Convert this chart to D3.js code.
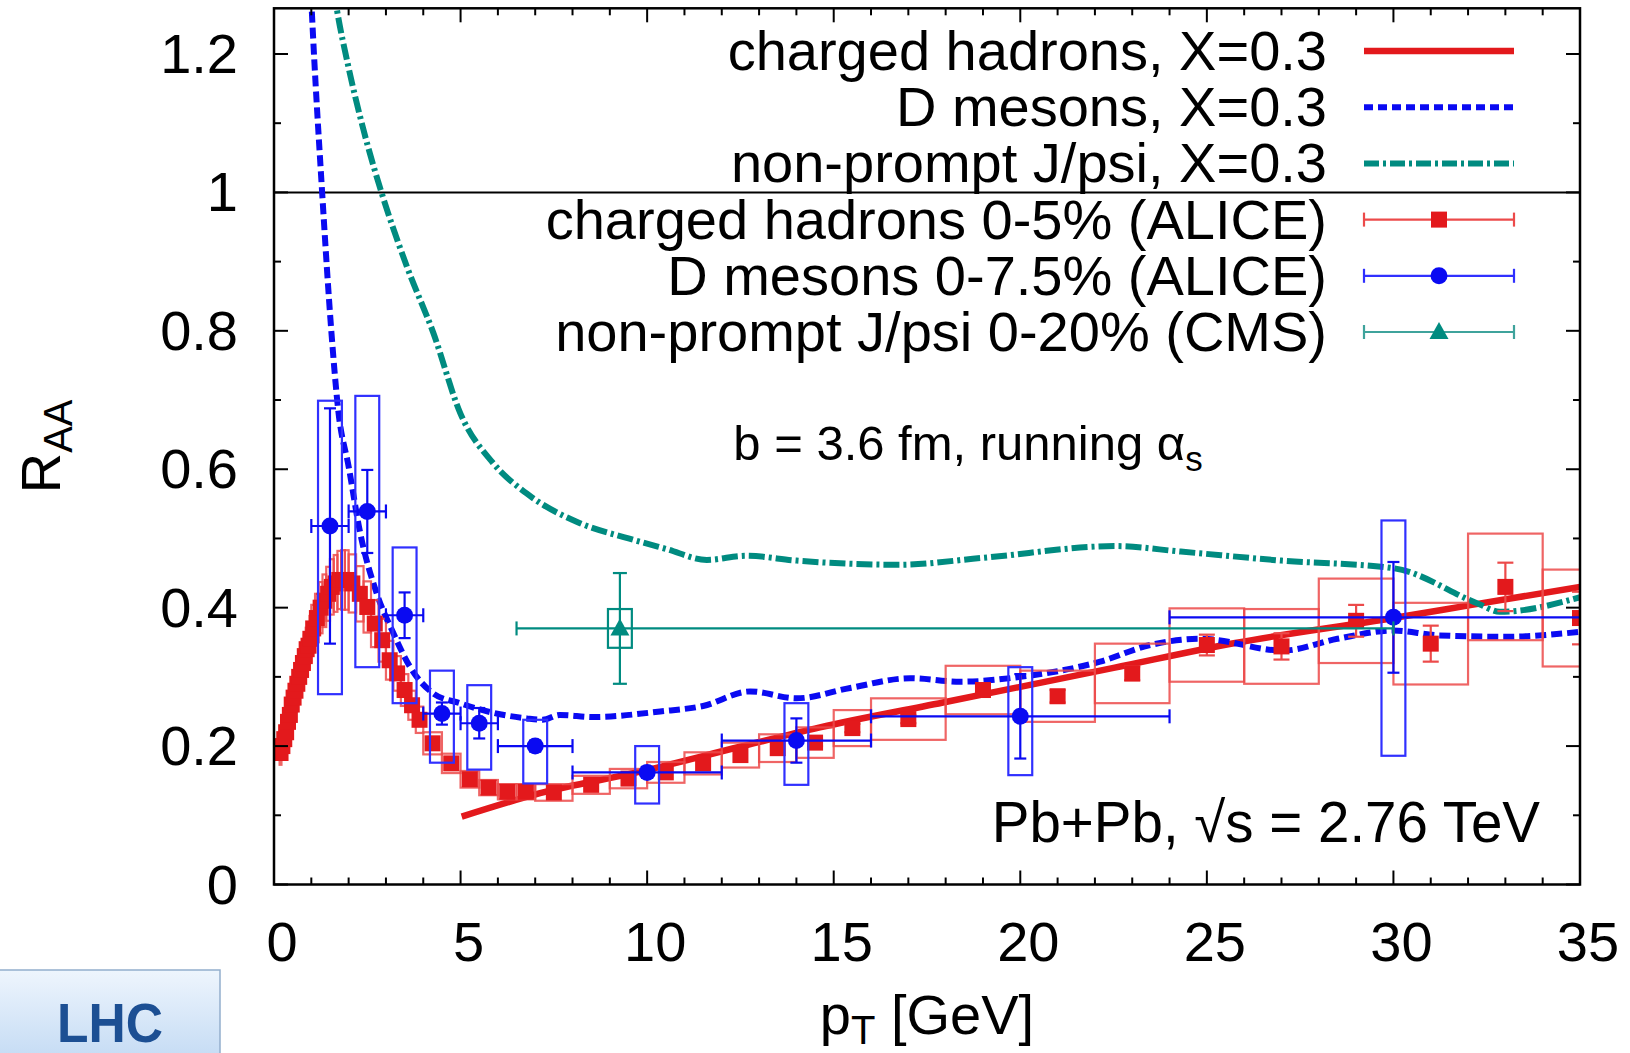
<!DOCTYPE html>
<html><head><meta charset="utf-8">
<script src="https://cdn.jsdelivr.net/npm/d3@7"></script>
<style>
body{margin:0;background:#fff;}
svg{display:block;}
text{font-family:"Liberation Sans",Arial,Helvetica,sans-serif;fill:#000;}
</style>
</head><body>
<svg id="c" width="1630" height="1053"></svg>
<script>
// ---------------- data ----------------
const xTicks = [0,5,10,15,20,25,30,35];
const xTickLabels = ["0","5","10","15","20","25","30","35"];
const yTicks = [0,0.2,0.4,0.6,0.8,1,1.2];
const yTickLabels = ["0","0.2","0.4","0.6","0.8","1","1.2"];

// theory: charged hadrons, X=0.3
const chTheoryPt = [5.03,7.13,9.81,12.49,14.63,18.03,22.5,25.76,30.0,32.1,35];
const chTheoryR  = [0.098,0.132,0.163,0.199,0.227,0.264,0.313,0.349,0.385,0.404,0.43];
// theory: D mesons, X=0.3
const dTheoryPt = [0.9,1.01,1.29,1.54,1.72,2.0,2.31,2.75,3.2,3.64,4.27,4.98,5.88,6.77,7.2,7.66,8.56,10.35,11.5,12.76,14.0,15.44,17.05,18.39,20.0,22.14,23.48,24.85,27.04,28.5,30.0,31.2,33.0,35];
const dTheoryR  = [1.40,1.266,1.0,0.797,0.686,0.604,0.508,0.421,0.363,0.315,0.276,0.262,0.248,0.240,0.238,0.245,0.242,0.250,0.258,0.279,0.269,0.284,0.298,0.293,0.300,0.322,0.346,0.355,0.338,0.355,0.367,0.36,0.358,0.365];
// theory: non-prompt J/psi, X=0.3
const jTheoryPt = [1.5,1.68,2.0,2.4,2.88,3.56,4.27,5.0,5.87,6.77,8.2,9.5,10.5,11.6,12.65,14.0,16.75,19.0,22.56,24.3,27.0,30.0,32.3,32.85,35];
const jTheoryR  = [1.33,1.266,1.18,1.09,1.0,0.893,0.797,0.68,0.609,0.565,0.522,0.50,0.485,0.469,0.475,0.468,0.462,0.472,0.489,0.481,0.468,0.457,0.405,0.394,0.415];

// ALICE charged hadrons 0-5%
const chPt   = [0.175,0.225,0.275,0.325,0.375,0.425,0.475,0.525,0.575,0.625,0.675,0.725,0.775,0.825,0.875,0.925,0.975,1.05,1.15,1.25,1.35,1.45,1.55,1.65,1.75,1.85,1.95,2.1,2.3,2.5,2.7,2.9,3.1,3.3,3.5,3.7,3.9,4.25,4.75,5.25,5.75,6.25,6.75,7.5,8.5,9.5,10.5,11.5,12.5,13.5,14.5,15.5,17,19,21,23,25,27,29,31,33,35];
const chLo   = [0.15,0.2,0.25,0.3,0.35,0.4,0.45,0.5,0.55,0.6,0.65,0.7,0.75,0.8,0.85,0.9,0.95,1.0,1.1,1.2,1.3,1.4,1.5,1.6,1.7,1.8,1.9,2.0,2.2,2.4,2.6,2.8,3.0,3.2,3.4,3.6,3.8,4.0,4.5,5.0,5.5,6.0,6.5,7,8,9,10,11,12,13,14,15,16,18,20,22,24,26,28,30,32,34];
const chHi   = [0.2,0.25,0.3,0.35,0.4,0.45,0.5,0.55,0.6,0.65,0.7,0.75,0.8,0.85,0.9,0.95,1.0,1.1,1.2,1.3,1.4,1.5,1.6,1.7,1.8,1.9,2.0,2.2,2.4,2.6,2.8,3.0,3.2,3.4,3.6,3.8,4.0,4.5,5.0,5.5,6.0,6.5,7,8,9,10,11,12,13,14,15,16,18,20,22,24,26,28,30,32,34,36];
const chR    = [0.19,0.20,0.21,0.22,0.235,0.245,0.26,0.27,0.28,0.29,0.30,0.31,0.32,0.33,0.34,0.345,0.355,0.37,0.385,0.40,0.41,0.42,0.43,0.435,0.44,0.44,0.44,0.435,0.42,0.401,0.377,0.353,0.324,0.305,0.281,0.259,0.238,0.204,0.175,0.152,0.140,0.134,0.134,0.133,0.144,0.153,0.162,0.175,0.187,0.197,0.205,0.226,0.239,0.281,0.272,0.305,0.346,0.344,0.381,0.348,0.430,0.385];
const chStat = [0.002,0.002,0.002,0.002,0.002,0.002,0.002,0.002,0.002,0.002,0.002,0.002,0.002,0.002,0.002,0.002,0.002,0.002,0.002,0.002,0.002,0.002,0.002,0.002,0.002,0.002,0.002,0.002,0.002,0.002,0.002,0.002,0.002,0.002,0.002,0.002,0.002,0.002,0.002,0.002,0.002,0.002,0.002,0.002,0.003,0.003,0.003,0.004,0.004,0.004,0.005,0.006,0.006,0.008,0.009,0.010,0.015,0.019,0.023,0.026,0.035,0.038];
const chSyst = [0.017,0.018,0.019,0.02,0.021,0.022,0.023,0.024,0.025,0.026,0.027,0.028,0.029,0.03,0.031,0.032,0.033,0.034,0.035,0.037,0.038,0.039,0.04,0.041,0.042,0.043,0.043,0.042,0.04,0.037,0.034,0.031,0.028,0.025,0.023,0.021,0.019,0.016,0.014,0.012,0.011,0.011,0.011,0.012,0.013,0.014,0.015,0.016,0.018,0.020,0.022,0.026,0.030,0.035,0.037,0.043,0.053,0.054,0.061,0.059,0.077,0.070];

// ALICE D mesons 0-7.5%
const dPt     = [1.5,2.5,3.5,4.5,5.5,7,10,14,20,30];
const dXlo    = [1,2,3,4,5,6,8,12,16,24];
const dXhi    = [2,3,4,5,6,8,12,16,24,36];
const dR      = [0.518,0.539,0.389,0.247,0.233,0.200,0.162,0.208,0.243,0.386];
const dStat   = [0.17,0.06,0.033,0.016,0.022,0.008,0.008,0.032,0.061,0.08];
const dSystHi = [0.181,0.167,0.098,0.062,0.055,0.038,0.038,0.054,0.071,0.14];
const dSystLo = [0.243,0.225,0.127,0.071,0.067,0.054,0.045,0.064,0.085,0.2];

// CMS non-prompt J/psi 0-20%
const jPt = [9.27], jXlo = [6.5], jXhi = [30], jR = [0.370], jStat = [0.08], jSyst = [0.028];

const legendLabels = ["charged hadrons, X=0.3","D mesons, X=0.3","non-prompt J/psi, X=0.3",
  "charged hadrons 0-5% (ALICE)","D mesons 0-7.5% (ALICE)","non-prompt J/psi 0-20% (CMS)"];

// ---------------- drawing ----------------
const RED="#e3191c", RED_L="#ec4a4a", BLUE="#0a0af2", BLUE_L="#3030ff", TEAL="#008b80", TEAL_L="#3fa39c";
const svg=d3.select("#c");
const yTop=1.266;
const x=d3.scaleLinear().domain([0,35]).range([274,1580]);
const y=d3.scaleLinear().domain([0,yTop]).range([884.5,8.3]);
const boxHalf=0.32; // half width of syst boxes for D / J/psi (GeV)
const SQ=16, CR=8.5;

const defs=svg.append("defs");
defs.append("clipPath").attr("id","clip").append("rect")
  .attr("x",x(0)).attr("y",y(yTop)).attr("width",x(35)-x(0)).attr("height",y(0)-y(yTop));
const grad=defs.append("linearGradient").attr("id","lhc").attr("x1",0).attr("y1",0).attr("x2",0).attr("y2",1);
grad.append("stop").attr("offset","0%").attr("stop-color","#eef5fd");
grad.append("stop").attr("offset","100%").attr("stop-color","#c4dbf4");

const g=svg.append("g").attr("clip-path","url(#clip)");

// unity line
g.append("line").attr("x1",x(0)).attr("x2",x(35)).attr("y1",y(1)).attr("y2",y(1))
  .attr("stroke","#000").attr("stroke-width",2);

const line=d3.line().x(d=>x(d[0])).y(d=>y(d[1])).curve(d3.curveMonotoneX);
g.append("path").attr("d",line(chTheoryPt.map((p,i)=>[p,chTheoryR[i]])))
  .attr("fill","none").attr("stroke",RED).attr("stroke-width",6.5);
g.append("path").attr("d",line(dTheoryPt.map((p,i)=>[p,dTheoryR[i]])))
  .attr("fill","none").attr("stroke",BLUE).attr("stroke-width",6).attr("stroke-dasharray","11,5");
g.append("path").attr("d",line(jTheoryPt.map((p,i)=>[p,jTheoryR[i]])))
  .attr("fill","none").attr("stroke",TEAL).attr("stroke-width",6).attr("stroke-dasharray","16,4,3,4");

function vbar(sel,px,y1,y2,col,cap,w){
  sel.append("line").attr("x1",px).attr("x2",px).attr("y1",y1).attr("y2",y2).attr("stroke",col).attr("stroke-width",w);
  sel.append("line").attr("x1",px-cap).attr("x2",px+cap).attr("y1",y1).attr("y2",y1).attr("stroke",col).attr("stroke-width",w);
  sel.append("line").attr("x1",px-cap).attr("x2",px+cap).attr("y1",y2).attr("y2",y2).attr("stroke",col).attr("stroke-width",w);
}
function hbar(sel,x1,x2,py,col,cap,w){
  sel.append("line").attr("x1",x1).attr("x2",x2).attr("y1",py).attr("y2",py).attr("stroke",col).attr("stroke-width",w);
  sel.append("line").attr("x1",x1).attr("x2",x1).attr("y1",py-cap).attr("y2",py+cap).attr("stroke",col).attr("stroke-width",w);
  sel.append("line").attr("x1",x2).attr("x2",x2).attr("y1",py-cap).attr("y2",py+cap).attr("stroke",col).attr("stroke-width",w);
}

// charged hadrons data
const gch=g.append("g");
chPt.forEach((p,i)=>{
  gch.append("rect").attr("x",x(chLo[i])).attr("width",x(chHi[i])-x(chLo[i]))
    .attr("y",y(chR[i]+chSyst[i])).attr("height",y(chR[i]-chSyst[i])-y(chR[i]+chSyst[i]))
    .attr("fill","none").attr("stroke",RED_L).attr("stroke-width",2.2).attr("opacity",0.85);
});
chPt.forEach((p,i)=>{
  if(chStat[i]>0.004) vbar(gch,x(p),y(chR[i]+chStat[i]),y(chR[i]-chStat[i]),RED_L,8,2.2);
  gch.append("rect").attr("x",x(p)-SQ/2).attr("y",y(chR[i])-SQ/2).attr("width",SQ).attr("height",SQ).attr("fill",RED);
});

// D meson data
const gd=g.append("g");
dPt.forEach((p,i)=>{
  gd.append("rect").attr("x",x(p-boxHalf)).attr("width",x(p+boxHalf)-x(p-boxHalf))
    .attr("y",y(dR[i]+dSystHi[i])).attr("height",y(dR[i]-dSystLo[i])-y(dR[i]+dSystHi[i]))
    .attr("fill","none").attr("stroke",BLUE_L).attr("stroke-width",2.2);
  hbar(gd,x(dXlo[i]),x(dXhi[i]),y(dR[i]),BLUE,7,2.2);
  vbar(gd,x(p),y(dR[i]+dStat[i]),y(dR[i]-dStat[i]),BLUE,6,2.2);
  gd.append("circle").attr("cx",x(p)).attr("cy",y(dR[i])).attr("r",CR).attr("fill",BLUE);
});

// J/psi data
const gj=g.append("g");
jPt.forEach((p,i)=>{
  gj.append("rect").attr("x",x(p-boxHalf)).attr("width",x(p+boxHalf)-x(p-boxHalf))
    .attr("y",y(jR[i]+jSyst[i])).attr("height",y(jR[i]-jSyst[i])-y(jR[i]+jSyst[i]))
    .attr("fill","none").attr("stroke",TEAL).attr("stroke-width",2.2);
  hbar(gj,x(jXlo[i]),x(jXhi[i]),y(jR[i]),TEAL,7,2.2);
  vbar(gj,x(p),y(jR[i]+jStat[i]),y(jR[i]-jStat[i]),TEAL,7,2.2);
  const cx=x(p), cy=y(jR[i]);
  gj.append("path").attr("d",`M${cx},${cy-10}L${cx+9.5},${cy+7}L${cx-9.5},${cy+7}Z`).attr("fill",TEAL);
});

// frame
svg.append("rect").attr("x",x(0)).attr("y",y(yTop)).attr("width",x(35)-x(0)).attr("height",y(0)-y(yTop))
  .attr("fill","none").attr("stroke","#000").attr("stroke-width",2.5);

// ticks
const tk=svg.append("g").attr("stroke","#000").attr("stroke-width",2);
d3.range(0,36,1).forEach(v=>{
  const L = (v%5===0)?14:7;
  tk.append("line").attr("x1",x(v)).attr("x2",x(v)).attr("y1",y(0)).attr("y2",y(0)-L);
  tk.append("line").attr("x1",x(v)).attr("x2",x(v)).attr("y1",y(yTop)).attr("y2",y(yTop)+L);
});
d3.range(0,13,1).forEach(k=>{
  const v=k/10, L=(k%2===0)?14:7;
  tk.append("line").attr("x1",x(0)).attr("x2",x(0)+L).attr("y1",y(v)).attr("y2",y(v));
  tk.append("line").attr("x1",x(35)).attr("x2",x(35)-L).attr("y1",y(v)).attr("y2",y(v));
});

// tick labels
const FS=56;
xTicks.forEach((v,i)=>{
  svg.append("text").attr("x",x(v)+8).attr("y",961).attr("text-anchor","middle").attr("font-size",FS).text(xTickLabels[i]);
});
yTicks.forEach((v,i)=>{
  svg.append("text").attr("x",238).attr("y",y(v)+19).attr("text-anchor","end").attr("font-size",FS).text(yTickLabels[i]);
});

// axis titles
const xt=svg.append("text").attr("x",(x(0)+x(35))/2).attr("y",1034).attr("text-anchor","middle").attr("font-size",FS);
xt.append("tspan").text("p");
xt.append("tspan").attr("font-size",40).attr("dy",10).text("T");
xt.append("tspan").attr("dy",-10).text(" [GeV]");

const yt=svg.append("text").attr("transform",`translate(60,${(y(0)+y(yTop))/2}) rotate(-90)`)
  .attr("text-anchor","middle").attr("font-size",FS);
yt.append("tspan").text("R");
yt.append("tspan").attr("font-size",40).attr("dy",12).text("AA");

// annotations
const t1=svg.append("text").attr("x",968).attr("y",460).attr("text-anchor","middle").attr("font-size",49);
t1.append("tspan").text("b = 3.6 fm, running α");
t1.append("tspan").attr("font-size",35).attr("dy",11).text("s");
svg.append("text").attr("x",1540).attr("y",842).attr("text-anchor","end").attr("font-size",56.5).text("Pb+Pb, √s = 2.76 TeV");

// legend
const LX1=1364, LX2=1514, LXT=1327, LY0=51, LDY=56.2;
legendLabels.forEach((lab,i)=>{
  const cy=LY0+i*LDY;
  svg.append("text").attr("x",LXT).attr("y",cy+19).attr("text-anchor","end").attr("font-size",FS).text(lab);
});
svg.append("line").attr("x1",LX1).attr("x2",LX2).attr("y1",LY0).attr("y2",LY0).attr("stroke",RED).attr("stroke-width",6.5);
svg.append("line").attr("x1",LX1).attr("x2",LX2).attr("y1",LY0+LDY).attr("y2",LY0+LDY).attr("stroke",BLUE).attr("stroke-width",6).attr("stroke-dasharray","9,5");
svg.append("line").attr("x1",LX1).attr("x2",LX2).attr("y1",LY0+2*LDY).attr("y2",LY0+2*LDY).attr("stroke",TEAL).attr("stroke-width",6).attr("stroke-dasharray","15,4,3,4");
const lg=svg.append("g");
const mx=(LX1+LX2)/2;
let cy=LY0+3*LDY;
hbar(lg,LX1,LX2,cy,RED_L,7,2.2);
lg.append("rect").attr("x",mx-SQ/2).attr("y",cy-SQ/2).attr("width",SQ).attr("height",SQ).attr("fill",RED);
cy=LY0+4*LDY;
hbar(lg,LX1,LX2,cy,BLUE_L,7,2.2);
lg.append("circle").attr("cx",mx).attr("cy",cy).attr("r",CR).attr("fill",BLUE);
cy=LY0+5*LDY;
hbar(lg,LX1,LX2,cy,TEAL_L,7,2.2);
lg.append("path").attr("d",`M${mx},${cy-10}L${mx+9.5},${cy+7}L${mx-9.5},${cy+7}Z`).attr("fill",TEAL);

// LHC badge
svg.append("rect").attr("x",-2).attr("y",970).attr("width",222).attr("height",90)
  .attr("fill","url(#lhc)").attr("stroke","#93aecd").attr("stroke-width",1.5);
svg.append("text").attr("x",110).attr("y",1042).attr("text-anchor","middle").attr("font-size",55)
  .attr("font-weight","bold").attr("textLength",106).attr("lengthAdjust","spacingAndGlyphs")
  .style("fill","#1c4f93").text("LHC");
</script>
</body></html>
